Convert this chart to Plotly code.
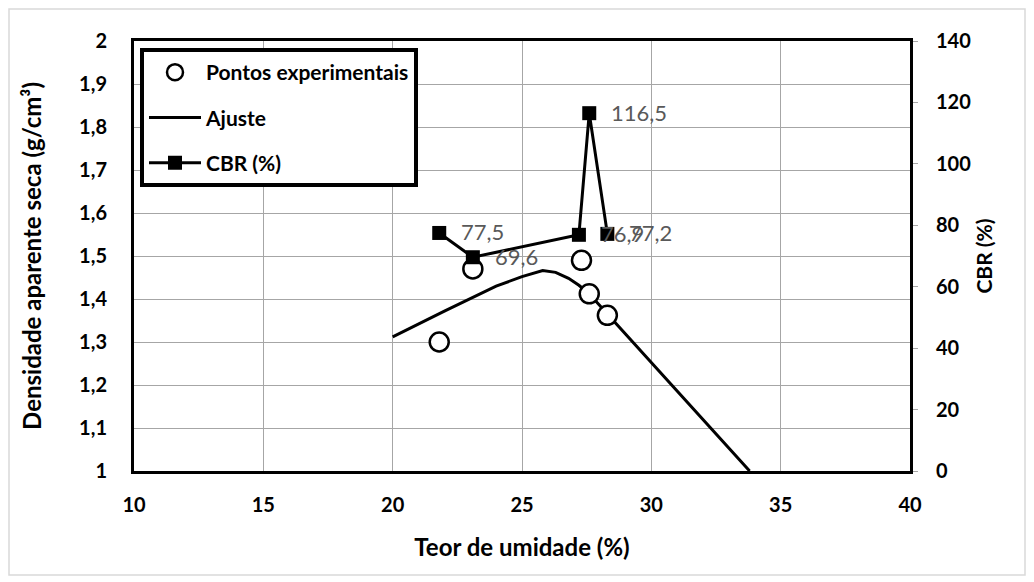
import plotly.graph_objects as go

# Data
exp_x = [21.8, 23.1, 27.3, 27.6, 28.3]
exp_y = [1.300, 1.470, 1.490, 1.412, 1.362]

fit_x = [20, 22, 24, 25, 25.8, 26.3, 26.8, 27.2, 27.6, 28.3, 33.8]
fit_y = [1.312, 1.372, 1.430, 1.452, 1.466, 1.462, 1.448, 1.432, 1.412, 1.365, 1.0]

cbr_x = [21.8, 23.1, 27.2, 27.6, 28.3]
cbr_y = [77.5, 69.6, 76.9, 116.5, 77.2]
cbr_labels = ["77,5", "69,6", "76,9", "116,5", "77,2"]

FONT = "Lato"
W, H = 1034, 582
OFF = 8  # page body margin
L, R, T, B = 134 - OFF, 910 - OFF, 41 - OFF, 471 - OFF

fig = go.Figure()

fig.add_trace(go.Scatter(
    x=fit_x, y=fit_y, mode="lines", name="Ajuste",
    line=dict(color="black", width=3), legendrank=2, legendgroup="b",
))
fig.add_trace(go.Scatter(
    x=exp_x, y=exp_y, mode="markers", name="Pontos experimentais",
    marker=dict(symbol="circle", size=19, color="white", line=dict(color="black", width=2.5)),
    legendrank=1, legendgroup="a",
))
fig.add_trace(go.Scatter(
    x=cbr_x, y=cbr_y, mode="lines+markers", name="CBR (%)", yaxis="y2",
    line=dict(color="black", width=3),
    marker=dict(symbol="square", size=14, color="black"),
    legendrank=3, legendgroup="c",
))

annotations = [
    dict(x=xv, y=yv, xref="x", yref="y2", text=t, showarrow=False,
         xanchor="left", yanchor="middle", xshift=20, yshift=1,
         font=dict(family=FONT, size=22, color="#595959"))
    for xv, yv, t in zip(cbr_x, cbr_y, cbr_labels)
]

tickfont = dict(family=FONT, size=20, color="black", weight="bold")

fig.update_layout(
    width=W, height=H,
    margin=dict(l=L, r=W - R, t=T, b=H - B, pad=0),
    paper_bgcolor="white", plot_bgcolor="white",
    separators=", ",
    showlegend=True,
    annotations=annotations,
    legend=dict(
        x=(140 - OFF - L) / (R - L), y=(B - (48 - OFF)) / (B - T), xanchor="left", yanchor="top",
        bgcolor="white", bordercolor="black", borderwidth=4,
        font=dict(family=FONT, size=21, color="black", weight="bold"),
        tracegroupgap=15, itemwidth=52,
    ),
    xaxis=dict(
        range=[10, 40], dtick=5, tick0=10,
        showgrid=True, gridcolor="#a6a6a6", gridwidth=1,
        showline=True, linecolor="black", linewidth=3, mirror=True,
        ticks="", tickfont=tickfont, ticklabelstandoff=14, zeroline=False,
        title=dict(text="Teor de umidade (%)", font=dict(family=FONT, size=24, color="black", weight="bold"), standoff=25),
    ),
    yaxis=dict(
        range=[1, 2], dtick=0.1, tick0=1,
        showgrid=True, gridcolor="#a6a6a6", gridwidth=1,
        showline=True, linecolor="black", linewidth=3, mirror=True,
        ticks="", tickfont=tickfont, ticklabelstandoff=20, zeroline=False,
        title=dict(text="Densidade aparente seca (g/cm³)", font=dict(family=FONT, size=24, color="black", weight="bold"), standoff=31),
    ),
    yaxis2=dict(
        range=[0, 140], dtick=20, tick0=0, overlaying="y", side="right",
        showgrid=False, showline=True, linecolor="black", linewidth=3,
        ticks="outside", ticklen=5, tickcolor="#a6a6a6", tickfont=tickfont,
        ticklabelstandoff=14, zeroline=False,
        title=dict(text="CBR (%)", font=dict(family=FONT, size=21, color="black", weight="bold"), standoff=8),
    ),
    shapes=[dict(
        type="rect", xref="paper", yref="paper",
        x0=(9 - OFF - L) / (R - L), x1=(1025 - OFF - L) / (R - L),
        y0=(B - (575 - OFF)) / (B - T), y1=(B - (9 - OFF)) / (B - T),
        line=dict(color="#d9d9d9", width=1.5), fillcolor="rgba(0,0,0,0)", layer="below",
    )],
)

fig.write_html("out.html")
